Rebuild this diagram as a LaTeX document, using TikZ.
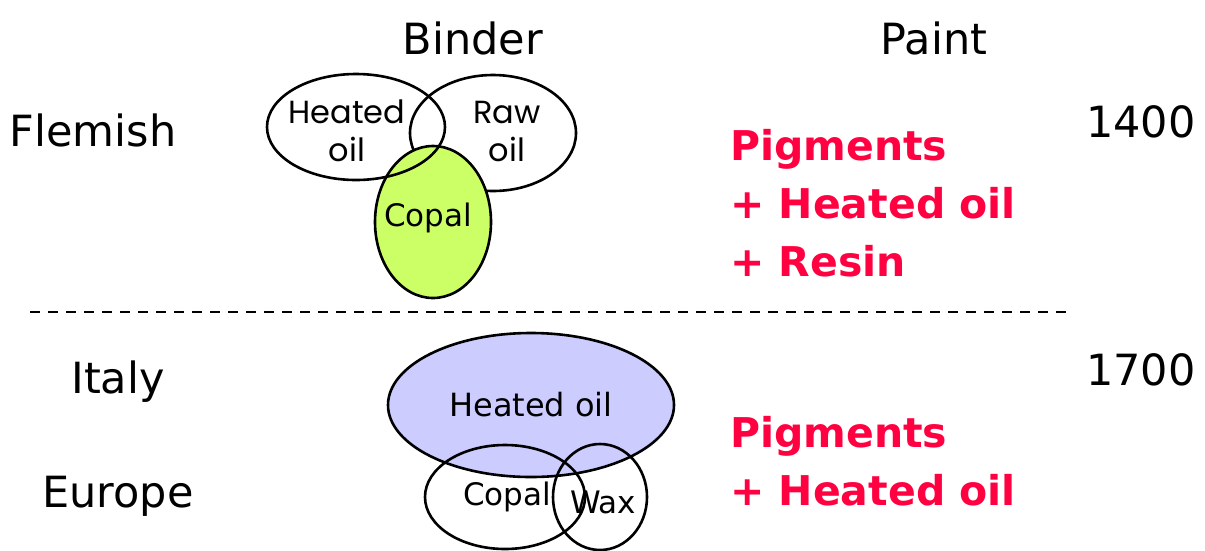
\documentclass[tikz,border=0pt]{standalone}
\usepackage{fontspec}
\setmainfont{DejaVu Sans}
\newfontfamily\gothic{Poppins}
\usetikzlibrary{shapes.geometric}
\definecolor{lime}{RGB}{204,255,102}
\definecolor{lav}{RGB}{204,204,255}
\definecolor{paintred}{RGB}{255,0,64}
\tikzset{
  x=1pt,y=-1pt,
  blob/.style={ellipse,draw=black,line width=2.6pt,inner sep=0pt},
  big/.style={font=\fontsize{43}{50}\selectfont,inner sep=0pt},
  mid/.style={font=\fontsize{31}{34}\selectfont,inner sep=0pt},
  thin/.style={font=\gothic\fontsize{32}{38}\selectfont,inner sep=0pt,align=center},
  redtext/.style={font=\bfseries\fontsize{41}{58}\selectfont,text=paintred,inner sep=0pt,align=left,anchor=west},
}
\begin{document}
\begin{tikzpicture}
\useasboundingbox (0,0) rectangle (1205,550);
% headings
\node[big] (binder) at (473,38) {Binder};
\node[big] (paint) at (934,38) {Paint};
\node[big] (flemish) at (93,130) {Flemish};
\node[big] (y1400) at (1141,122) {1400};
\node[big] (italy) at (118,382) {Italy};
\node[big] (y1700) at (1141,370) {1700};
\node[big] (europe) at (118,496) {Europe};
% separator
\coordinate (sepL) at (30,312);
\coordinate (sepR) at (1068,312);
\draw[line width=2.6pt,dash pattern=on 10pt off 8pt] (sepL) -- (sepR);
% top binder
\node[blob,minimum width=166pt,minimum height=116pt] (raw) at (493,133) {};
\node[blob,fill=lime,minimum width=116pt,minimum height=152pt] (copal1) at (433,222) {};
\node[blob,minimum width=178pt,minimum height=106pt] (heated1) at (356,127) {};
\node[thin] (heatedtxt) at (347,131) {Heated\\oil};
\node[thin] (rawtxt) at (507,131) {Raw\\oil};
\node[mid] (copaltxt1) at (428,218) {Copal};
% bottom binder
\node[blob,fill=lav,minimum width=286pt,minimum height=144pt,font=\fontsize{32}{34}\selectfont] (heated2) at (531,405) {Heated oil};
\node[blob,minimum width=160pt,minimum height=104pt] (copal2) at (505,497) {};
\node[blob,minimum width=94pt,minimum height=106pt] (wax) at (600,497) {};
\node[mid] (copaltxt2) at (507,497) {Copal};
\node[mid] (waxtxt) at (603,502) {Wax};
% paint
\node[redtext] (paint1) at (730,203) {Pigments\\+ Heated oil\\+ Resin};
\node[redtext] (paint2) at (730,461) {Pigments\\+ Heated oil};
\end{tikzpicture}
\end{document}
